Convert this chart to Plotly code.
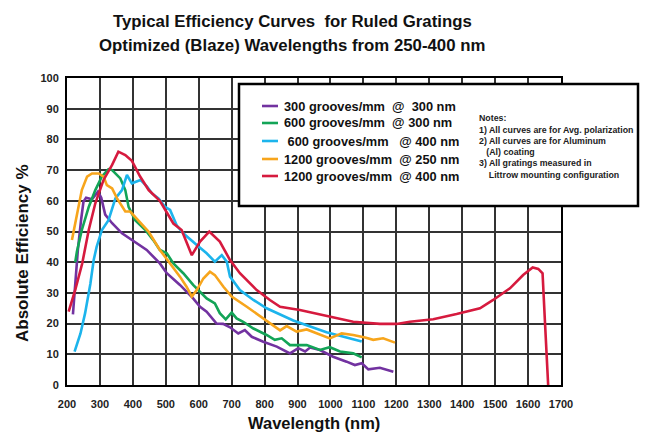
import plotly.graph_objects as go

# ---------------- data ----------------
series_names = [
    "300 grooves/mm\u00a0\u00a0@\u00a0\u00a0300 nm",
    "600 grooves/mm\u00a0\u00a0@ 300 nm",
    "\u00a0600 grooves/mm\u00a0\u00a0\u00a0@ 400 nm",
    "1200 grooves/mm\u00a0\u00a0@ 250 nm",
    "1200 grooves/mm\u00a0\u00a0@ 400 nm",
]
series_colors = ["#7232a0", "#13a457", "#1cb4ec", "#f7a51c", "#d61a3e"]

purple_wl = [218, 225, 233, 243, 250, 258, 276, 294, 304, 316, 337, 367, 400, 442, 482, 503,
             543, 583, 604, 624, 654, 674, 695, 720, 740, 761, 796, 837, 877, 902, 923, 938,
             968, 1008, 1049, 1074, 1095, 1115, 1150, 1191]
purple_eff = [23, 33, 44, 54, 59.7, 61, 60.5, 63, 61, 55.5, 52.7, 49.4, 47, 44, 39.6, 36.4,
              32.6, 28.2, 25.5, 23.9, 20, 19.9, 18.8, 16.8, 17.9, 15.7, 14.1, 12.5, 10.3, 12,
              10.9, 12.2, 11.4, 9.2, 7.6, 6.5, 7.1, 5.1, 5.6, 4.3]

green_wl = [225, 230, 245, 266, 286, 306, 326, 337, 362, 377, 387, 407, 438, 462, 482, 503,
            523, 553, 583, 624, 649, 664, 682, 700, 715, 735, 766, 806, 831, 852, 877, 928,
            968, 998, 1029, 1069, 1095]
green_eff = [40, 43.4, 50.5, 58, 63.5, 67.9, 70.3, 70, 67.3, 63.5, 58, 53.7, 50.5, 47.2, 44,
             42.9, 39.6, 36.4, 32.6, 28.2, 26.6, 23.4, 21.4, 23.6, 21.7, 20.6, 18.4, 16.3,
             14.7, 15.2, 13, 13, 11.4, 12.3, 10.9, 10.3, 9]

cyan_wl = [223, 241, 255, 271, 281, 290, 306, 326, 347, 367, 382, 397, 423, 443, 458, 478,
           498, 513, 533, 553, 594, 624, 649, 670, 685, 695, 725, 766, 806, 887, 988, 1095]
cyan_eff = [10.9, 16.8, 23.4, 33, 40.7, 45, 50.5, 53.7, 60.8, 63.5, 68.4, 65.7, 66.8, 64.6,
            62.4, 60.8, 58, 57, 52, 49.4, 45.6, 42.9, 40.2, 42.3, 40.2, 35.3, 30.9, 27.7, 25,
            21, 17.2, 14.2]

orange_wl = [215, 230, 245, 261, 276, 296, 311, 321, 337, 352, 377, 392, 417, 448, 482, 513,
             543, 563, 579, 594, 614, 634, 649, 675, 700, 746, 806, 847, 867, 897, 928, 958,
             998, 1034, 1069, 1105, 1130, 1160, 1196]
orange_eff = [47.2, 55.9, 63.5, 67.9, 68.9, 68.9, 67.9, 65.1, 64, 60.8, 56.5, 56.5, 53.7,
              49.9, 44, 39.6, 35.3, 32, 28.8, 30.9, 34.7, 36.9, 35.8, 32, 28.8, 25.5, 21,
              17.8, 19.2, 17.4, 18.1, 16.8, 15.2, 16.8, 16.3, 15.5, 14.7, 15.2, 13.8]

red_wl = [205, 225, 246, 266, 286, 311, 337, 356, 377, 397, 422, 448, 482, 523, 548, 579,
          604, 632, 664, 695, 725, 776, 816, 847, 907, 988, 1069, 1150, 1201, 1241, 1312,
          1383, 1454, 1494, 1545, 1585, 1614, 1631, 1644, 1651, 1661]
red_eff = [23.9, 31, 39.5, 50.5, 59.2, 66.8, 71.7, 76, 74.9, 73, 67.9, 63.5, 60, 52.6, 50.5,
           42.3, 46.7, 50, 46.7, 40.7, 36.4, 30.9, 27.7, 25.5, 24.4, 22.5, 20.6, 19.9, 19.9,
           20.6, 21.4, 23.1, 25, 27.7, 31.5, 35.8, 38.3, 37.8, 36.4, 21.2, 0]

x_ticks = list(range(200, 1701, 100))
y_ticks = list(range(0, 101, 10))

notes_lines = [
    "Notes:",
    "1) All curves are for Avg. polarization",
    "2) All curves are for Aluminum",
    "\u00a0\u00a0\u00a0(Al) coating",
    "3) All gratings measured in",
    "\u00a0\u00a0\u00a0\u00a0Littrow mounting configuration",
]

title_lines = ["Typical Efficiency Curves\u00a0\u00a0for Ruled Gratings",
               "Optimized (Blaze) Wavelengths from 250-400 nm"]

# ---------------- figure ----------------
W, H = 645, 432
L, R, T, B = 67, 84, 78, 47
pw, ph = W - L - R, H - T - B


def px(xp):
    return (xp - L) / pw


def py(yp):
    return (H - B - yp) / ph


all_x = [purple_wl, green_wl, cyan_wl, orange_wl, red_wl]
all_y = [purple_eff, green_eff, cyan_eff, orange_eff, red_eff]

fig = go.Figure()
for xs, ys, name, col in zip(all_x, all_y, series_names, series_colors):
    fig.add_trace(go.Scatter(x=xs, y=ys, mode="lines", name=name,
                             line=dict(color=col, width=2.6), showlegend=False,
                             cliponaxis=False))

font_main = "Liberation Sans, Arial, sans-serif"

fig.update_layout(
    width=W, height=H,
    margin=dict(l=L, r=R, t=T, b=B, pad=0),
    paper_bgcolor="white", plot_bgcolor="white",
    font=dict(family=font_main, color="#1a1a1a"),
    showlegend=False,
)
tickfont = dict(size=11, color="#222", family=font_main, weight="bold")
fig.update_xaxes(range=[200, 1700], tickvals=x_ticks, ticktext=[str(v) for v in x_ticks],
                 showgrid=True, gridcolor="#333", gridwidth=1.5, zeroline=False,
                 showline=True, linecolor="black", linewidth=2, mirror=True,
                 ticks="", ticklabelstandoff=8, tickfont=tickfont)
fig.update_yaxes(range=[0, 100], tickvals=y_ticks, ticktext=[str(v) for v in y_ticks],
                 showgrid=True, gridcolor="#333", gridwidth=1.5, zeroline=False,
                 showline=True, linecolor="black", linewidth=2, mirror=True,
                 ticks="", ticklabelstandoff=4, tickfont=tickfont)

shapes = []
# legend / notes box
shapes.append(dict(type="rect", xref="paper", yref="paper",
                   x0=px(239), x1=px(638), y0=py(206), y1=py(84),
                   fillcolor="white", line=dict(color="black", width=2.5), layer="above"))
annotations = []
leg_y = [106, 123, 141, 159, 176]
for yv, name, col in zip(leg_y, series_names, series_colors):
    shapes.append(dict(type="line", xref="paper", yref="paper",
                       x0=px(262), x1=px(278), y0=py(yv), y1=py(yv),
                       line=dict(color=col, width=2.6), layer="above"))
    annotations.append(dict(text=name, xref="paper", yref="paper", x=px(282), y=py(yv),
                            xanchor="left", yanchor="middle", showarrow=False,
                            font=dict(size=12.8, color="#111", family=font_main, weight="bold")))

notes_y = [118, 129.5, 141, 152, 163, 174.5]
for yv, t in zip(notes_y, notes_lines):
    annotations.append(dict(text=t, xref="paper", yref="paper", x=px(477), y=py(yv),
                            xanchor="left", yanchor="middle", showarrow=False,
                            font=dict(size=8.8, color="#222", family=font_main, weight="bold")))

# title
for yv, t in zip([22, 46], title_lines):
    annotations.append(dict(text=t, xref="paper", yref="paper", x=px(292), y=py(yv),
                            xanchor="center", yanchor="middle", showarrow=False,
                            font=dict(size=16.8, color="#111", family=font_main,
                                      weight="bold")))
# axis titles
annotations.append(dict(text="Absolute Efficiency %", xref="paper", yref="paper",
                        x=px(22), y=py(253), xanchor="center", yanchor="middle",
                        textangle=-90, showarrow=False,
                        font=dict(size=17, color="#111", family=font_main, weight="bold")))
annotations.append(dict(text="Wavelength (nm)", xref="paper", yref="paper",
                        x=px(314), y=py(423), xanchor="center", yanchor="middle",
                        showarrow=False,
                        font=dict(size=16.5, color="#111", family=font_main, weight="bold")))

fig.update_layout(shapes=shapes, annotations=annotations)
fig.write_html("out.html", config={"displayModeBar": False},
               post_script="document.body.style.margin='0';document.body.style.padding='0';")
